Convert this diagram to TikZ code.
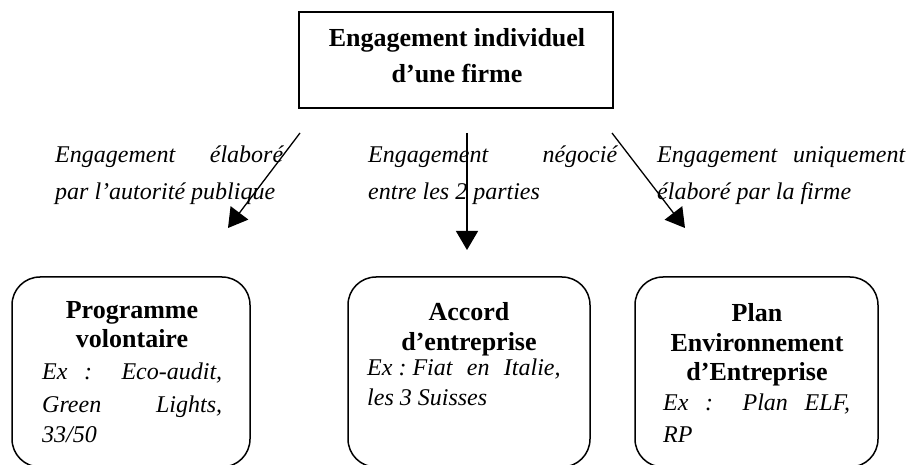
\documentclass[tikz,border=0pt]{standalone}
\usepackage{fontspec}
\setmainfont{Liberation Serif}
\usetikzlibrary{arrows.meta}

\tikzset{
  frame/.style={draw, line width=1.5pt, inner sep=0pt},
  card/.style={draw, line width=1.5pt, inner sep=0pt, rounded corners=28pt},
  head/.style={anchor=base, inner sep=0pt, font=\bfseries\fontsize{26}{30}\selectfont},
  lbl/.style={anchor=base west, inner sep=0pt, font=\itshape\fontsize{24}{28}\selectfont},
  arr/.style={line width=1.3pt, -{Triangle[length=19pt,width=22pt]}},
}

\begin{document}
\begin{tikzpicture}[x=1pt, y=-1pt]
  \useasboundingbox (0,0) rectangle (911,465);

  % top box
  \node[frame, minimum width=314pt, minimum height=96pt] (firm) at (456,60) {};
  \node[head] (firm1) at (457,47) {Engagement individuel};
  \node[head] (firm2) at (457,83) {d’une firme};

  % arrow labels
  \node[lbl] (la1) at (55,163) {\makebox[228pt][s]{Engagement élaboré}};
  \node[lbl] (la2) at (55,200) {par l’autorité publique};
  \node[lbl] (lb1) at (368,163) {\makebox[249pt][s]{Engagement négocié}};
  \node[lbl] (lb2) at (368,200) {entre les 2 parties};
  \node[lbl] (lc1) at (657,163) {\makebox[248pt][s]{Engagement uniquement}};
  \node[lbl] (lc2) at (657,200) {élaboré par la firme};

  % arrows
  \coordinate (sa) at (300,133);
  \coordinate (ea) at (228,228);
  \coordinate (sb) at (467,133);
  \coordinate (eb) at (467,250);
  \coordinate (sc) at (612,133);
  \coordinate (ec) at (685,228);
  \draw[arr] (sa) -- (ea);
  \draw[arr] (sb) -- (eb);
  \draw[arr] (sc) -- (ec);

  % bottom boxes
  \node[card, minimum width=238pt, minimum height=190pt] (prog) at (131,372) {};
  \node[card, minimum width=242pt, minimum height=190pt] (acc) at (469,372) {};
  \node[card, minimum width=243pt, minimum height=190pt] (plan) at (756.5,372) {};

  % programme volontaire
  \node[head] (p1) at (132,319) {Programme};
  \node[head] (p2) at (132,348) {volontaire};
  \node[lbl] (p3) at (42,379) {\makebox[180pt][s]{Ex : Eco-audit,}};
  \node[lbl] (p4) at (42,412) {\makebox[180pt][s]{Green Lights,}};
  \node[lbl] (p5) at (42,442) {33/50};

  % accord d'entreprise
  \node[lbl] (a3) at (367,375) {Ex :~Fiat\hspace{0.6em}en\hspace{0.6em}Italie,};
  \node[head] (a1) at (469,320) {Accord};
  \node[head] (a2) at (469,350) {d’entreprise};
  \node[lbl] (a4) at (367,405) {les 3 Suisses};

  % plan environnement d'entreprise
  \node[head] (e1) at (757,322) {Plan};
  \node[head] (e2) at (757,352) {Environnement};
  \node[head] (e3) at (757,381) {d’Entreprise};
  \node[lbl] (e4) at (663,410) {\makebox[187pt][s]{Ex : Plan ELF,}};
  \node[lbl] (e5) at (663,442) {RP};
\end{tikzpicture}
\end{document}
